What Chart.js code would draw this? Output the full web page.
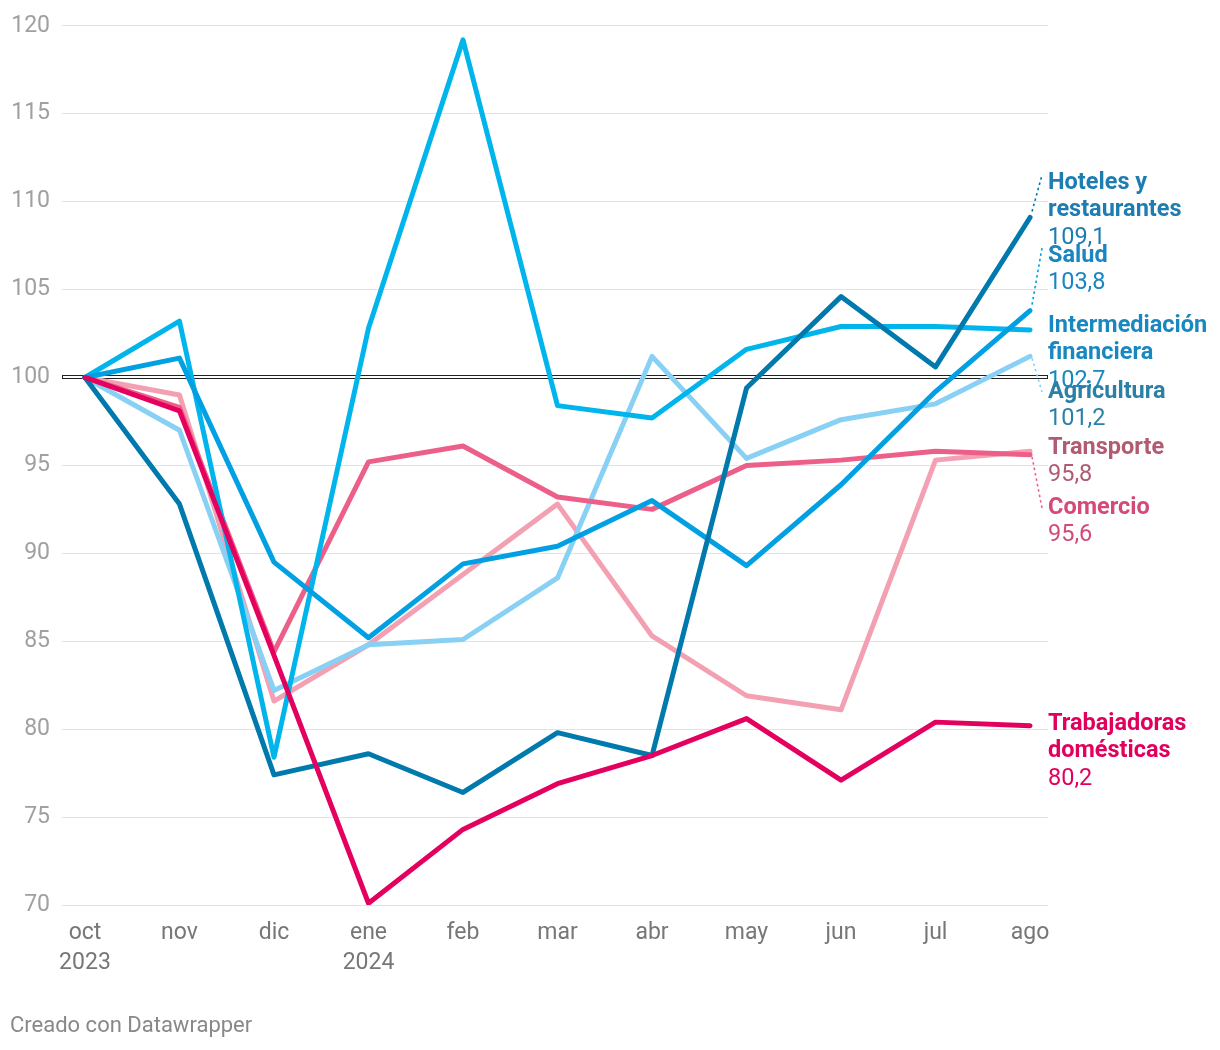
<!DOCTYPE html>
<html>
<head>
<meta charset="utf-8">
<script src="https://cdn.jsdelivr.net/npm/chart.js@4.4.1/dist/chart.umd.min.js"></script>
<style>
  html, body { margin: 0; padding: 0; background: #fff; }
  #wrap { position: relative; width: 1220px; height: 1050px; }
  #footer { position: absolute; left: 10px; top: 1012px; font: 22px Roboto, sans-serif; color: #888; }
</style>
</head>
<body>
<div id="wrap">
  <canvas id="chart" width="1220" height="1050"></canvas>
  <div id="footer">Creado con Datawrapper</div>
</div>
<script>
// Months (index = x position)
const months = [['oct', '2023'], 'nov', 'dic', ['ene', '2024'], 'feb', 'mar', 'abr', 'may', 'jun', 'jul', 'ago'];
const yTicks = [70, 75, 80, 85, 90, 95, 100, 105, 110, 115, 120];

// Series values (index 100 = oct 2023)
const trabajadoras = [100, 98.1, 84.2, 70.1, 74.3, 76.9, 78.5, 80.6, 77.1, 80.4, 80.2];
const hoteles      = [100, 92.8, 77.4, 78.6, 76.4, 79.8, 78.5, 99.4, 104.6, 100.6, 109.1];
const salud        = [100, 101.1, 89.5, 85.2, 89.4, 90.4, 93.0, 89.3, 93.9, 99.2, 103.8];
const intermed     = [100, 103.2, 78.4, 102.8, 119.2, 98.4, 97.7, 101.6, 102.9, 102.9, 102.7];
const comercio     = [100, 98.3, 84.4, 95.2, 96.1, 93.2, 92.5, 95.0, 95.3, 95.8, 95.6];
const agricultura  = [100, 97.0, 82.2, 84.8, 85.1, 88.6, 101.2, 95.4, 97.6, 98.5, 101.2];
const transporte   = [100, 99.0, 81.6, 84.8, 88.8, 92.8, 85.3, 81.9, 81.1, 95.3, 95.8];

// Right-hand labels: [name lines, value text]
const seriesList = [
  { name: ['Trabajadoras', 'domésticas'], value: '80,2', data: trabajadoras, line: '#e4005e', text: '#e2005d', labelY: 724 },
  { name: ['Hoteles y', 'restaurantes'], value: '109,1', data: hoteles, line: '#0079ad', text: '#1d7cb1', labelY: 183 },
  { name: ['Salud'], value: '103,8', data: salud, line: '#00a0e3', text: '#1a86c1', labelY: 256 },
  { name: ['Intermediación', 'financiera'], value: '102,7', data: intermed, line: '#00b5ec', text: '#1a88c0', labelY: 326 },
  { name: ['Comercio'], value: '95,6', data: comercio, line: '#ec5f88', text: '#d5497a', labelY: 508 },
  { name: ['Agricultura'], value: '101,2', data: agricultura, line: '#88d0f4', text: '#2b80a6', labelY: 392 },
  { name: ['Transporte'], value: '95,8', data: transporte, line: '#f3a0b3', text: '#b15b73', labelY: 448 }
];

const font = 'Roboto, sans-serif';

// baseline at 100 drawn as a thin outlined bar
const baselinePlugin = {
  id: 'baseline',
  beforeDatasetsDraw(chart) {
    const { ctx, chartArea, scales } = chart;
    const y = Math.round(scales.y.getPixelForValue(100));
    ctx.save();
    ctx.fillStyle = '#fff';
    ctx.fillRect(chartArea.left, y - 2, chartArea.right - chartArea.left, 4);
    ctx.strokeStyle = '#222';
    ctx.lineWidth = 1;
    ctx.strokeRect(chartArea.left + 0.5, y - 1.5, chartArea.right - chartArea.left - 1, 3);
    ctx.restore();
  }
};

const labelPlugin = {
  id: 'endLabels',
  afterDatasetsDraw(chart) {
    const { ctx, chartArea } = chart;
    const tx = chartArea.right;
    ctx.save();
    seriesList.forEach((s, i) => {
      const meta = chart.getDatasetMeta(i);
      const last = meta.data[meta.data.length - 1];
      const dy = s.labelY - last.y;
      if (Math.abs(dy) > 12) {
        ctx.strokeStyle = s.line;
        ctx.lineWidth = 1.6;
        ctx.setLineDash([2.5, 3]);
        ctx.beginPath();
        ctx.moveTo(last.x + 2, last.y + (dy < 0 ? -6 : 2));
        ctx.lineTo(tx - 6, dy < 0 ? s.labelY - 8 : s.labelY);
        ctx.stroke();
        ctx.setLineDash([]);
      }
      ctx.fillStyle = s.text;
      ctx.textBaseline = 'middle';
      ctx.textAlign = 'left';
      let y = s.labelY;
      ctx.font = 'bold 23.5px ' + font;
      s.name.forEach(l => { ctx.fillText(l, tx, y); y += 27.5; });
      ctx.font = '23.5px ' + font;
      ctx.fillText(s.value, tx, y);
    });
    ctx.restore();
  }
};

new Chart(document.getElementById('chart'), {
  type: 'line',
  data: {
    labels: months.map((m, i) => i),
    datasets: seriesList.map(s => ({
      data: s.data.map((v, i) => ({ x: i, y: v })),
      borderColor: s.line,
      borderWidth: 5,
      pointRadius: 0,
      borderJoinStyle: 'round',
      borderCapStyle: 'round',
      tension: 0
    }))
  },
  options: {
    responsive: false,
    animation: false,
    layout: { padding: { top: 23, right: 172, left: 0, bottom: 0 } },
    plugins: {
      legend: { display: false },
      tooltip: { enabled: false }
    },
    scales: {
      x: {
        type: 'linear',
        min: -0.243,
        max: 10.19,
        afterBuildTicks(scale) { scale.ticks = months.map((m, i) => ({ value: i })); },
        afterFit(scale) { scale.height = 145; },
        grid: { display: false },
        border: { display: false },
        ticks: {
          autoSkip: false,
          maxRotation: 0,
          padding: 5,
          color: '#777',
          font: { family: font, size: 23, lineHeight: 1.3 },
          callback: v => months[v]
        }
      },
      y: {
        min: 70,
        max: 120,
        afterBuildTicks(scale) { scale.ticks = yTicks.map(v => ({ value: v })); },
        afterFit(scale) { scale.width = 62; },
        grid: { color: '#e3e3e3', lineWidth: 1, drawTicks: false },
        border: { display: false },
        ticks: {
          padding: 12,
          color: '#a0a0a0',
          font: { family: font, size: 23 }
        }
      }
    }
  },
  plugins: [baselinePlugin, labelPlugin]
});
</script>
</body>
</html>
